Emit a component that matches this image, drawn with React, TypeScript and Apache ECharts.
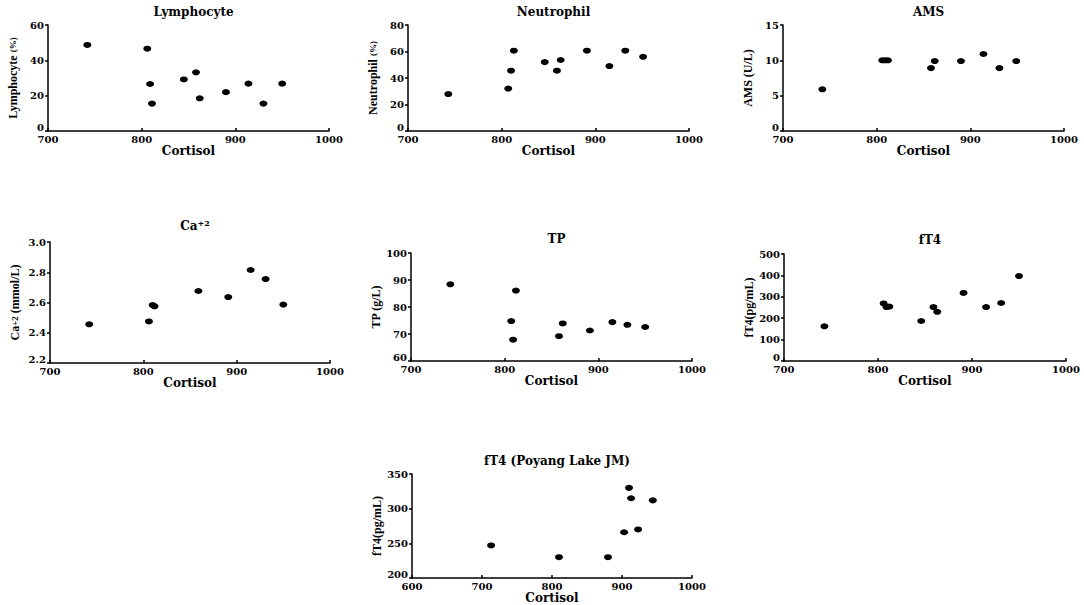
import React, { useEffect, useRef } from "react";
import * as echarts from "echarts";

// Lymphocyte (%)
const lymphX = [742, 806, 809, 811, 845, 858, 862, 890, 914, 930, 950];
const lymphY = [48.7, 46.6, 26.6, 15.5, 29.2, 33.2, 18.5, 22, 26.8, 15.5, 26.8];
// Neutrophil (%)
const neutX = [743, 807, 810, 813, 846, 859, 863, 891, 915, 932, 951];
const neutY = [27.9, 32, 45.5, 60.6, 52, 45.5, 53.6, 60.6, 49, 60.6, 56];
// AMS (U/L)
const amsX = [742, 806, 809, 812, 858, 862, 890, 914, 931, 949];
const amsY = [5.9, 10, 10, 10, 8.9, 9.9, 9.9, 10.9, 8.9, 9.9];
// Ca+2 (mmol/L)
const caX = [742, 806, 810, 812, 859, 891, 915, 931, 950];
const caY = [2.456, 2.475, 2.583, 2.575, 2.676, 2.636, 2.815, 2.755, 2.586];
// TP (g/L)
const tpX = [742, 812, 807, 809, 858, 862, 891, 915, 931, 950];
const tpY = [88.4, 86.1, 74.8, 67.9, 69.2, 73.9, 71.3, 74.4, 73.4, 72.6];
// fT4 (pg/mL)
const ft4X = [743, 806, 809, 812, 846, 859, 863, 891, 915, 931, 950];
const ft4Y = [162, 269, 252, 254, 187, 252, 230, 318, 252, 271, 397];
// fT4 (Poyang Lake JM)
const poyX = [713, 810, 880, 903, 910, 913, 923, 944];
const poyY = [247, 230, 230, 266, 330, 315, 270, 312];

const serif = "DejaVu Serif";
const nameFont = "Liberation Serif";

type Panel = {
  title: string;
  yName: string;
  xs: number[];
  ys: number[];
  xMin: number;
  yMin: number;
  yMax: number;
  yInt: number;
  grid: { left: number; top: number; width: number; height: number };
  titleTop: number;
  dec?: number;
};

const panels: Panel[] = [
  { title: "Lymphocyte", yName: "{n|Lymphocyte }{s|(%)}", xs: lymphX, ys: lymphY, xMin: 700, yMin: 0, yMax: 60, yInt: 20, grid: { left: 48, top: 25, width: 281, height: 106 }, titleTop: 1 },
  { title: "Neutrophil", yName: "{n|Neutrophil }{s|(%)}", xs: neutX, ys: neutY, xMin: 700, yMin: 0, yMax: 80, yInt: 20, grid: { left: 408, top: 25, width: 281, height: 106 }, titleTop: 1 },
  { title: "AMS", yName: "{n|AMS (U/L)}", xs: amsX, ys: amsY, xMin: 700, yMin: 0, yMax: 15, yInt: 5, grid: { left: 783, top: 25, width: 281, height: 106 }, titleTop: 1 },
  { title: "{t|Ca}{ts|+2}", yName: "{n|Ca}{s|+2}{n| (mmol/L)}", xs: caX, ys: caY, xMin: 700, yMin: 2.2, yMax: 3.0, yInt: 0.2, grid: { left: 50, top: 242, width: 280, height: 121 }, titleTop: 214, dec: 1 },
  { title: "TP", yName: "{n|TP (g/L)}", xs: tpX, ys: tpY, xMin: 700, yMin: 60, yMax: 100, yInt: 10, grid: { left: 411, top: 253, width: 281, height: 108 }, titleTop: 228 },
  { title: "fT4", yName: "{n|fT4(pg/mL)}", xs: ft4X, ys: ft4Y, xMin: 700, yMin: 0, yMax: 500, yInt: 100, grid: { left: 784, top: 254, width: 282, height: 107 }, titleTop: 229 },
  { title: "fT4 (Poyang Lake JM)", yName: "{n|fT4(pg/mL)}", xs: poyX, ys: poyY, xMin: 600, yMin: 200, yMax: 350, yInt: 50, grid: { left: 412, top: 474, width: 280, height: 106 }, titleTop: 450 },
];

export default function App() {
  const ref = useRef<HTMLDivElement>(null);
  useEffect(() => {
    if (!ref.current) return;
    const chart = echarts.init(ref.current, null, { renderer: "svg" });
    const axisLine = { show: true, lineStyle: { color: "#000", width: 1.5 } };
    const labelBase = { fontFamily: serif, fontWeight: "bold", fontSize: 10, color: "#000" };
    const option: any = {
      animation: false,
      backgroundColor: "#fff",
      title: panels.map((p) => ({
        text: p.title,
        left: p.grid.left + p.grid.width / 2,
        top: p.titleTop,
        textAlign: "center",
        textStyle: {
          fontFamily: serif,
          fontWeight: "bold",
          fontSize: 12,
          color: "#000",
          rich: {
            t: { fontFamily: serif, fontWeight: "bold", fontSize: 12, color: "#000" },
            ts: { fontFamily: serif, fontWeight: "bold", fontSize: 8, color: "#000", verticalAlign: "top", padding: [0, 0, 6, 0] },
          },
        },
      })),
      grid: panels.map((p) => ({ ...p.grid, containLabel: false })),
      xAxis: panels.map((p, i) => ({
        gridIndex: i,
        type: "value",
        min: p.xMin,
        max: 1000,
        interval: 100,
        name: "Cortisol",
        nameLocation: "middle",
        nameGap: 14,
        nameTextStyle: { fontFamily: serif, fontWeight: "bold", fontSize: 12, color: "#000" },
        axisLine,
        axisTick: { show: true, inside: true, length: 3, lineStyle: { color: "#000", width: 1.5 } },
        axisLabel: { ...labelBase, margin: 3, formatter: (v: number) => String(v) },
        splitLine: { show: false },
      })),
      yAxis: panels.map((p, i) => ({
        gridIndex: i,
        type: "value",
        min: p.yMin,
        max: p.yMax,
        interval: p.yInt,
        name: p.yName,
        nameLocation: "middle",
        nameGap: 29,
        nameTextStyle: {
          fontFamily: nameFont,
          fontWeight: "bold",
          fontSize: 12,
          color: "#000",
          rich: {
            n: { fontFamily: nameFont, fontWeight: "bold", fontSize: 12, color: "#000" },
            s: { fontFamily: nameFont, fontWeight: "bold", fontSize: 9, color: "#000" },
          },
        },
        axisLine,
        axisTick: { show: true, inside: false, length: 3, lineStyle: { color: "#000", width: 1.5 } },
        axisLabel: {
          ...labelBase,
          margin: 4,
          formatter: (v: number) => {
            const s = p.dec ? v.toFixed(p.dec) : String(v);
            return Math.abs(v - p.yMin) < 1e-9 ? "{m|" + s + "}" : s;
          },
          rich: { m: { ...labelBase, padding: [0, 0, 7, 0] } },
        },
        splitLine: { show: false },
      })),
      series: panels.map((p, i) => ({
        type: "scatter",
        xAxisIndex: i,
        yAxisIndex: i,
        symbol: "circle",
        symbolSize: [8, 6],
        itemStyle: { color: "#000", opacity: 1 },
        data: p.xs.map((x, j) => [x, p.ys[j]]),
      })),
    };
    chart.setOption(option);
    return () => chart.dispose();
  }, []);
  return (
    <div
      ref={ref}
      style={{ position: "absolute", left: 0, top: 0, width: 1084, height: 605, background: "#fff" }}
    />
  );
}
